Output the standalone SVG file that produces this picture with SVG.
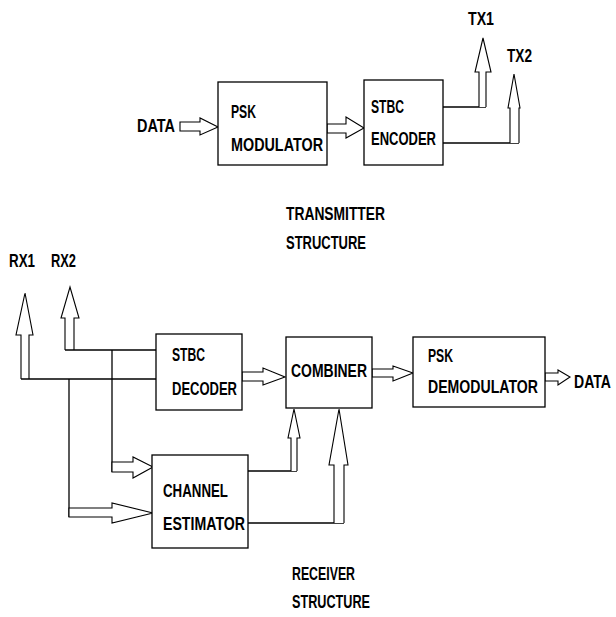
<svg xmlns="http://www.w3.org/2000/svg" width="616" height="617" viewBox="0 0 616 617">
<style>
.box{fill:#fff;stroke:#000;stroke-width:1.3}
.ln{fill:none;stroke:#000;stroke-width:1.3}
.ar{fill:#fff;stroke:#000;stroke-width:1.1;stroke-linejoin:miter}
text{font-family:"Liberation Sans",Arial,sans-serif;font-weight:bold;font-size:19px;fill:#000}
</style>
<rect width="616" height="617" fill="#fff"/>
<g id="connectors">
  <polygon class="ar" points="180,122 200,122 200,118 218,127 200,135 200,131 180,131"/>
  <polygon class="ar" points="327,124 346,124 346,117 364,128 346,138 346,133 327,133"/>
  <polyline class="ln" points="443,107 486,107"/>
  <polyline class="ar" points="479,107 479,72 475,72 483,38 491,72 486,72 486,107"/>
  <polyline class="ln" points="443,143 519,143"/>
  <polyline class="ar" points="510,143 510,108 508,108 514,74 520,108 519,108 519,143"/>
  <polyline class="ar" points="21,379 21,335 16,335 25,293 33,335 29,335 29,379"/>
  <polyline class="ln" points="21,379 156,379"/>
  <polyline class="ar" points="65,350 65,318 61,318 70,287 79,318 74,318 74,350"/>
  <polyline class="ln" points="65,350 156,350"/>
  <polyline class="ln" points="69,379 69,517"/>
  <polyline class="ln" points="112,350 112,472"/>
  <polygon class="ar" points="69,508 112,508 112,503 153,513 112,523 112,517 69,517"/>
  <polygon class="ar" points="112,462 133,462 133,457 153,467 133,478 133,472 112,472"/>
  <polygon class="ar" points="242,372 263,372 263,368 285,377 263,385 263,381 242,381"/>
  <polygon class="ar" points="372,369 393,369 393,366 413,373 393,381 393,377 372,377"/>
  <polygon class="ar" points="545,373 558,373 558,370 570,377 558,385 558,381 545,381"/>
  <polyline class="ln" points="248,471 297,471"/>
  <polyline class="ar" points="291,471 291,438 288,438 294,409 300,438 297,438 297,471"/>
  <polyline class="ln" points="248,523 344,523"/>
  <polyline class="ar" points="334,523 334,465 329,465 339,409 348,465 344,465 344,523"/>
</g>
<g id="labels">
  <text x="137" y="132" textLength="38" lengthAdjust="spacingAndGlyphs">DATA</text>
  <text x="468" y="25" textLength="26" lengthAdjust="spacingAndGlyphs">TX1</text>
  <text x="507" y="62" textLength="25" lengthAdjust="spacingAndGlyphs">TX2</text>
  <text x="9" y="267" textLength="26" lengthAdjust="spacingAndGlyphs">RX1</text>
  <text x="51" y="267" textLength="25" lengthAdjust="spacingAndGlyphs">RX2</text>
  <text transform="translate(574,388) scale(0.74,1)" x="0" y="0">DATA</text>
  <text x="286" y="220" textLength="99" lengthAdjust="spacingAndGlyphs">TRANSMITTER</text>
  <text x="286" y="249" textLength="80" lengthAdjust="spacingAndGlyphs">STRUCTURE</text>
  <text x="292" y="580" textLength="63" lengthAdjust="spacingAndGlyphs">RECEIVER</text>
  <text x="292" y="608" textLength="78" lengthAdjust="spacingAndGlyphs">STRUCTURE</text>
</g>
<g id="psk-modulator">
  <rect class="box" x="218" y="82" width="109" height="83"/>
  <text x="231" y="118" textLength="25" lengthAdjust="spacingAndGlyphs">PSK</text>
  <text x="231" y="151" textLength="92" lengthAdjust="spacingAndGlyphs">MODULATOR</text>
</g>
<g id="stbc-encoder">
  <rect class="box" x="364" y="80" width="79" height="85"/>
  <text x="371" y="113" textLength="33" lengthAdjust="spacingAndGlyphs">STBC</text>
  <text x="371" y="145" textLength="65" lengthAdjust="spacingAndGlyphs">ENCODER</text>
</g>
<g id="stbc-decoder">
  <rect class="box" x="156" y="334" width="86" height="76"/>
  <text x="172" y="361" textLength="33" lengthAdjust="spacingAndGlyphs">STBC</text>
  <text x="172" y="395" textLength="65" lengthAdjust="spacingAndGlyphs">DECODER</text>
</g>
<g id="combiner">
  <rect class="box" x="286" y="337" width="86" height="71"/>
  <text x="291" y="377" textLength="76" lengthAdjust="spacingAndGlyphs">COMBINER</text>
</g>
<g id="psk-demodulator">
  <rect class="box" x="413" y="337" width="132" height="70"/>
  <text x="428" y="362" textLength="25" lengthAdjust="spacingAndGlyphs">PSK</text>
  <text x="428" y="393" textLength="110" lengthAdjust="spacingAndGlyphs">DEMODULATOR</text>
</g>
<g id="channel-estimator">
  <rect class="box" x="152" y="455" width="96" height="93"/>
  <text x="163" y="497" textLength="65" lengthAdjust="spacingAndGlyphs">CHANNEL</text>
  <text x="163" y="530" textLength="82" lengthAdjust="spacingAndGlyphs">ESTIMATOR</text>
</g>
</svg>
